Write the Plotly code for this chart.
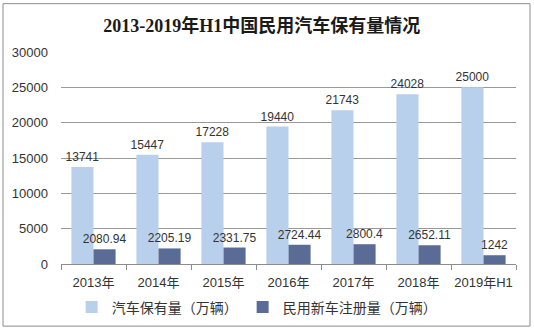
import plotly.graph_objects as go

# Yearly figures, in units of 10k vehicles
years = ["2013年", "2014年", "2015年", "2016年", "2017年", "2018年", "2019年H1"]
car_stock = [13741, 15447, 17228, 19440, 21743, 24028, 25000]
new_registrations = [2080.94, 2205.19, 2331.75, 2724.44, 2800.4, 2652.11, 1242]

stock_name = "汽车保有量（万辆）"
reg_name = "民用新车注册量（万辆）"
title_text = "2013-2019年H1中国民用汽车保有量情况"

W, H = 534, 335
M_L, M_R, M_T, M_B = 61, 18, 52, 68

label_font = dict(family="Liberation Sans, Arial, Noto Sans CJK SC", size=12, color="#333333")

fig = go.Figure()
fig.add_trace(go.Bar(
    x=years, y=car_stock, name=stock_name,
    marker=dict(color="#B8D0EB", line=dict(width=0)),
    text=[str(v) for v in car_stock], textposition="outside",
    textfont=label_font, cliponaxis=False, constraintext="none",
))
fig.add_trace(go.Bar(
    x=years, y=new_registrations, name=reg_name,
    marker=dict(color="#5A6C96", line=dict(width=0)),
    text=[str(v) for v in new_registrations], textposition="outside",
    textfont=label_font, cliponaxis=False, constraintext="none",
))

# outer frame around the whole chart
fx0 = (3 - M_L) / (W - M_L - M_R)
fx1 = (530 - M_L) / (W - M_L - M_R)
fy0 = (H - 330 - M_B) / (H - M_T - M_B)
fy1 = (H - 3 - M_B) / (H - M_T - M_B)
fig.add_shape(type="rect", xref="paper", yref="paper",
              x0=fx0, x1=fx1, y0=fy0, y1=fy1,
              line=dict(color="#8C8C8C", width=1), layer="below")

fig.update_layout(
    width=W, height=H,
    margin=dict(l=M_L, r=M_R, t=M_T, b=M_B),
    paper_bgcolor="white", plot_bgcolor="white",
    barmode="group", bargap=0.32, bargroupgap=0,
    title=dict(text=f"<b>{title_text}</b>", x=0.49, xanchor="center",
               y=1 - 26 / H, yanchor="middle",
               font=dict(family="Liberation Serif, Noto Sans CJK SC", size=18, color="#1a1a1a")),
    font=dict(family="Liberation Sans, Arial, Noto Sans CJK SC", size=13, color="#333333"),
    showlegend=True,
    legend=dict(orientation="h", x=0.43, xanchor="center", y=-0.205, yanchor="middle",
                font=dict(family="Noto Sans CJK SC", size=14, color="#333333"),
                itemwidth=30, tracegroupgap=0, traceorder="normal"),
    xaxis=dict(showgrid=False, showline=True, linecolor="#8C8C8C", linewidth=1,
               ticks="outside", tickson="boundaries", ticklen=5, tickcolor="#8C8C8C",
               tickangle=0, ticklabelstandoff=6,
               tickfont=dict(size=13, color="#333333"), zeroline=False),
    yaxis=dict(range=[0, 30000], dtick=5000, tickformat="d", showgrid=True,
               gridcolor="#999999", gridwidth=1,
               showline=False, zeroline=False, ticks="", ticklabelstandoff=12,
               tickfont=dict(size=13, color="#333333")),
)

fig.write_html("out.html")
